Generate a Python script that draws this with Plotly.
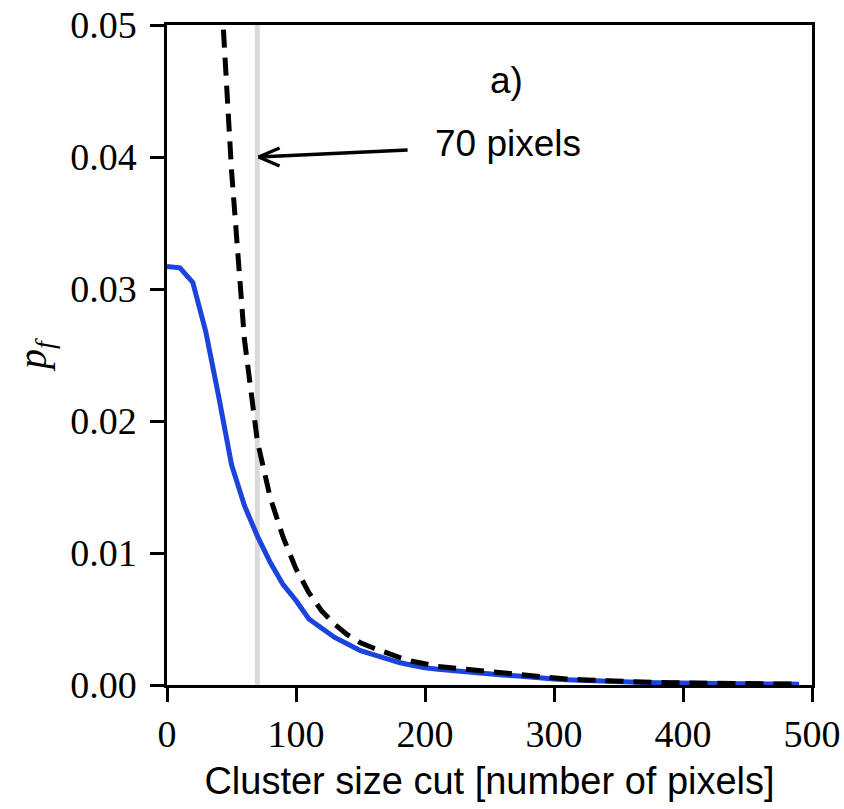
import plotly.graph_objects as go

# x positions (cluster size cut, pixels)
x_blue = list(range(0, 500, 10))
p_blue = [0.0317, 0.0316, 0.0305, 0.0268, 0.0219, 0.0167, 0.0136, 0.0113, 0.0093, 0.0076,
          0.0064, 0.0050, 0.0043, 0.0036, 0.0031, 0.0026, 0.0023, 0.0020, 0.0017, 0.0015,
          0.0013, 0.0012, 0.0011, 0.0010, 0.0009, 0.0008, 0.00075, 0.0007, 0.0006, 0.0005,
          0.00045, 0.0004, 0.00035, 0.0003, 0.00027, 0.00024, 0.00021, 0.00019, 0.00017, 0.00015,
          0.00013, 0.00012, 0.00011, 0.0001, 0.00009, 0.00008, 0.00008, 0.00007, 0.00007, 0.00006]

x_dash = list(range(40, 500, 10))
p_dash = [0.0560, 0.0390, 0.0262, 0.0185, 0.0142, 0.0112, 0.0088, 0.0070, 0.0056, 0.0046,
          0.0038, 0.0032, 0.0028, 0.0024, 0.0021, 0.0018, 0.0016, 0.0014, 0.0013, 0.0012,
          0.0011, 0.0010, 0.0009, 0.0008, 0.0007, 0.0006, 0.00052, 0.00045, 0.0004, 0.00035,
          0.0003, 0.00027, 0.00024, 0.00021, 0.00019, 0.00017, 0.00015, 0.00013, 0.00012, 0.00011,
          0.0001, 0.00009, 0.00008, 0.00007, 0.00007, 0.00006]

cut_value = 70
x_ticks = [0, 100, 200, 300, 400, 500]
y_ticks = [0.00, 0.01, 0.02, 0.03, 0.04, 0.05]

fig = go.Figure()
fig.add_trace(go.Scatter(x=x_blue, y=p_blue, mode="lines",
                         line=dict(color="#1a44dc", width=5), showlegend=False))
fig.add_trace(go.Scatter(x=x_dash, y=p_dash, mode="lines",
                         line=dict(color="black", width=5, dash="18px,10px"), showlegend=False))

fig.add_shape(type="line", x0=cut_value, x1=cut_value, y0=0, y1=1, xref="x", yref="paper",
              line=dict(color="#d5dbd8", width=5), layer="below")

# arrow pointing at the cut line: shaft plus open chevron head (pixel-sized shapes)
tip_x, tip_y = cut_value + 1.0, 0.0400
for dx, dy in [(149, 7), (21, 9), (21, -9)]:
    fig.add_shape(type="line", xref="x", yref="y",
                  xsizemode="pixel", ysizemode="pixel", xanchor=tip_x, yanchor=tip_y,
                  x0=0, y0=0, x1=dx, y1=dy,
                  line=dict(color="black", width=3.5))

fig.add_annotation(x=206, y=0.0410, xref="x", yref="y", text="70 pixels",
                   showarrow=False, xanchor="left", yanchor="middle",
                   font=dict(family="Liberation Sans", size=37, color="black"))
fig.add_annotation(x=263, y=0.0458, xref="x", yref="y", text="a)", showarrow=False,
                   xanchor="center", yanchor="middle",
                   font=dict(family="Liberation Sans", size=37, color="black"))

fig.update_layout(
    width=844, height=809,
    margin=dict(l=167, r=32, t=25, b=124),
    plot_bgcolor="white", paper_bgcolor="white",
    font=dict(family="Liberation Serif", size=38, color="black"),
)
fig.update_xaxes(range=[0, 500], tickvals=x_ticks, showgrid=False, zeroline=False,
                 showline=True, linecolor="black", linewidth=2.5, mirror=True,
                 ticks="outside", ticklen=14, tickwidth=2.5, tickcolor="black",
                 automargin=False,
                 title=dict(text="Cluster size cut [number of pixels]",
                            font=dict(family="Liberation Sans", size=38), standoff=14))
fig.update_yaxes(range=[0, 0.05], tickvals=y_ticks, tickformat=".2f", showgrid=False,
                 zeroline=False, showline=True, linecolor="black", linewidth=2.5, mirror=True,
                 ticks="outside", ticklen=14, tickwidth=2.5, tickcolor="black",
                 automargin=False, ticklabelstandoff=6,
                 title=dict(text="<i>p</i><sub><i>f</i></sub>",
                            font=dict(family="Liberation Serif", size=40), standoff=12))

fig.write_html("out.html")
